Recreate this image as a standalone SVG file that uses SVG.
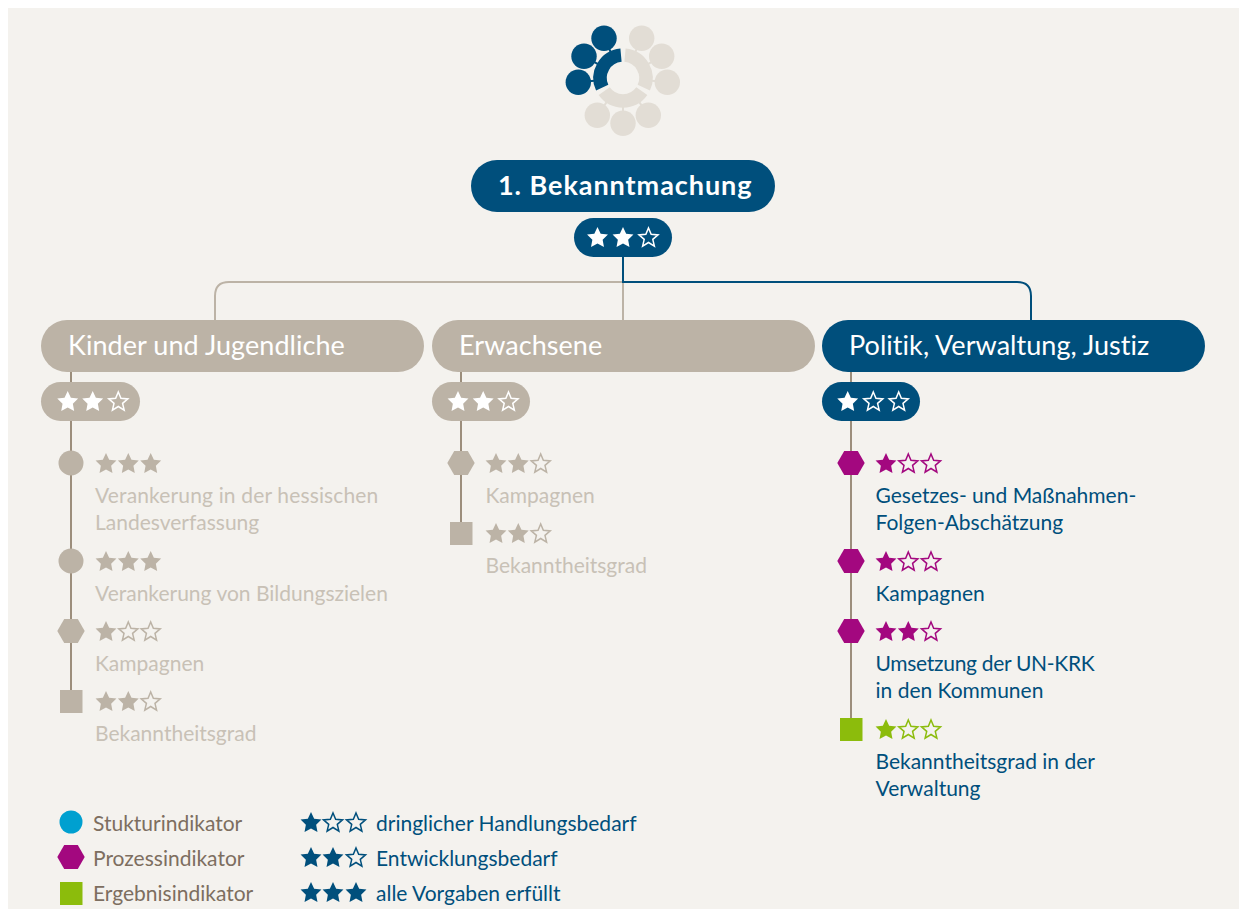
<svg xmlns="http://www.w3.org/2000/svg" width="1239" height="912" viewBox="0 0 1239 912">
<style>
text{font-family:"Lato","Liberation Sans",sans-serif;font-size:21px}
.h{font-size:27px;fill:#fff;letter-spacing:.05px}
.b{font-weight:700;letter-spacing:.95px}
.g{fill:#c8c1b6}.n{fill:#004f7c}.l{fill:#7d6e60}
.w{fill:#fff;stroke:none}.wo{fill:none;stroke:#fff;stroke-width:1.5}
.bg{fill:#bcb3a6;stroke:none}.bo{fill:none;stroke:#bcb3a6;stroke-width:1.5}
.m{fill:#a3087f;stroke:none}.mo{fill:none;stroke:#a3087f;stroke-width:1.5}
.v{fill:#8cbc0c;stroke:none}.vo{fill:none;stroke:#8cbc0c;stroke-width:1.5}
.nv{fill:#004f7c;stroke:none}.nvo{fill:none;stroke:#004f7c;stroke-width:1.5}
.line{fill:none;stroke-width:2}
.arc{fill:none;stroke-width:13.5}
</style>
<defs>
<polygon id="s" points="0,-10 3.17,-3.37 10.46,-2.4 5.14,2.67 6.47,9.9 0,6.4 -6.47,9.9 -5.14,2.67 -10.46,-2.4 -3.17,-3.37"/>
<polygon id="o" points="0,-9 2.65,-2.64 9.51,-2.09 4.28,2.39 5.88,9.09 0,5.5 -5.88,9.09 -4.28,2.39 -9.51,-2.09 -2.65,-2.64"/>
<polygon id="h" points="-13.7,0 -6.8,-12 6.8,-12 13.7,0 6.8,12 -6.8,12"/>
</defs>
<rect x="0" y="0" width="1239" height="912" fill="#fff"/>
<rect x="8" y="8" width="1231" height="901" fill="#f4f2ee"/>

<g id="logo">
<g stroke="#e2ddd5" stroke-width="2">
<line x1="641.7" y1="38.3" x2="634.1" y2="54.5"/><line x1="661.7" y1="56.3" x2="645.7" y2="65.3"/><line x1="667.3" y1="82.3" x2="648.9" y2="80.5"/>
<line x1="648.3" y1="115.3" x2="637.6" y2="99.6"/><line x1="623" y1="123.3" x2="623" y2="104"/><line x1="597.3" y1="115.3" x2="608.4" y2="99.6"/>
</g>
<g stroke="#004f7c" stroke-width="2">
<line x1="604" y1="38.3" x2="611.9" y2="54.5"/><line x1="584" y1="56.3" x2="600.3" y2="65.3"/><line x1="578.3" y1="82.3" x2="597.1" y2="80.5"/>
</g>
<path class="arc" stroke="#004f7c" d="M621 55.1A23 23 0 0 0 602.2 87.7"/>
<path class="arc" stroke="#e2ddd5" d="M625 55.1A23 23 0 0 1 643.8 87.7"/>
<path class="arc" stroke="#e2ddd5" d="M641.8 91.2A23 23 0 0 1 604.2 91.2"/>
<g fill="#004f7c"><circle cx="604" cy="38.3" r="12.7"/><circle cx="584" cy="56.3" r="12.7"/><circle cx="578.3" cy="82.3" r="12.7"/></g>
<g fill="#e2ddd5"><circle cx="641.7" cy="38.3" r="12.7"/><circle cx="661.7" cy="56.3" r="12.7"/><circle cx="667.3" cy="82.3" r="12.7"/><circle cx="648.3" cy="115.3" r="12.7"/><circle cx="623" cy="123.3" r="12.7"/><circle cx="597.3" cy="115.3" r="12.7"/></g>
</g>

<g id="connectors">
<path class="line" stroke="#bcb3a6" d="M623 282H229Q215 282 215 296V320M623 257V320"/>
<path class="line" stroke="#004f7c" d="M623 257V282H1017Q1031 282 1031 296V320"/>
<path class="line" stroke="#9c8e7c" d="M71 372V702M461 372V533M851 372V729"/>
</g>

<g id="root">
<rect x="471" y="160" width="304" height="52" rx="26" fill="#004f7c"/>
<text x="498" y="195" class="h b">1. Bekanntmachung</text>
<rect x="574" y="218" width="98" height="39" rx="19.5" fill="#004f7c"/>
<use href="#s" x="597.5" y="237" class="w"/><use href="#s" x="623" y="237" class="w"/><use href="#o" x="648.5" y="237" class="wo"/>
</g>

<g id="group-kinder">
<rect x="41" y="320" width="383" height="52" rx="26" fill="#bcb3a6"/>
<text x="68" y="355" class="h">Kinder und Jugendliche</text>
<rect x="41" y="382" width="99" height="39" rx="19.5" fill="#bcb3a6"/>
<use href="#s" x="67.700" y="401" class="w"/><use href="#s" x="92.700" y="401" class="w"/><use href="#o" x="118.300" y="401" class="wo"/>
</g>
<g id="group-erwachsene">
<rect x="432" y="320" width="383" height="52" rx="26" fill="#bcb3a6"/>
<text x="459" y="355" class="h">Erwachsene</text>
<rect x="432" y="382" width="98" height="39" rx="19.5" fill="#bcb3a6"/>
<use href="#s" x="458" y="401" class="w"/><use href="#s" x="483.200" y="401" class="w"/><use href="#o" x="508.500" y="401" class="wo"/>
</g>
<g id="group-politik">
<rect x="822" y="320" width="383" height="52" rx="26" fill="#004f7c"/>
<text x="849" y="355" class="h">Politik, Verwaltung, Justiz</text>
<rect x="822" y="382" width="98" height="39" rx="19.5" fill="#004f7c"/>
<use href="#s" x="847.700" y="401" class="w"/><use href="#o" x="873.300" y="401" class="wo"/><use href="#o" x="898.700" y="401" class="wo"/>
</g>

<g id="k1"><circle cx="71" cy="463" r="12.500" fill="#bcb3a6"/>
<use href="#s" x="106" y="463" class="bg"/><use href="#s" x="128.300" y="463" class="bg"/><use href="#s" x="150.700" y="463" class="bg"/>
<text x="95" y="503" class="g" letter-spacing=".15">Verankerung in der hessischen</text><text x="95" y="530" class="g">Landesverfassung</text></g>
<g id="k2"><circle cx="71" cy="561" r="12.500" fill="#bcb3a6"/>
<use href="#s" x="106" y="561" class="bg"/><use href="#s" x="128.300" y="561" class="bg"/><use href="#s" x="150.700" y="561" class="bg"/>
<text x="95" y="601" class="g">Verankerung von Bildungszielen</text></g>
<g id="k3"><use href="#h" x="71" y="631" class="bg"/>
<use href="#s" x="106" y="631" class="bg"/><use href="#o" x="128.300" y="631" class="bo"/><use href="#o" x="150.700" y="631" class="bo"/>
<text x="95" y="671" class="g">Kampagnen</text></g>
<g id="k4"><rect x="60" y="690" width="22.500" height="23" fill="#bcb3a6"/>
<use href="#s" x="106" y="701" class="bg"/><use href="#s" x="128.300" y="701" class="bg"/><use href="#o" x="150.700" y="701" class="bo"/>
<text x="95" y="741" class="g">Bekanntheitsgrad</text></g>

<g id="e1"><use href="#h" x="461" y="463" class="bg"/>
<use href="#s" x="496" y="463" class="bg"/><use href="#s" x="518.300" y="463" class="bg"/><use href="#o" x="540.700" y="463" class="bo"/>
<text x="485.500" y="503" class="g">Kampagnen</text></g>
<g id="e2"><rect x="450" y="522" width="22.500" height="23" fill="#bcb3a6"/>
<use href="#s" x="496" y="533" class="bg"/><use href="#s" x="518.300" y="533" class="bg"/><use href="#o" x="540.700" y="533" class="bo"/>
<text x="485.500" y="573" class="g">Bekanntheitsgrad</text></g>

<g id="p1"><use href="#h" x="851" y="463" class="m"/>
<use href="#s" x="886" y="463" class="m"/><use href="#o" x="908.300" y="463" class="mo"/><use href="#o" x="931" y="463" class="mo"/>
<text x="875.500" y="503" class="n">Gesetzes- und Maßnahmen-</text><text x="875.500" y="530" class="n">Folgen-Abschätzung</text></g>
<g id="p2"><use href="#h" x="851" y="561" class="m"/>
<use href="#s" x="886" y="561" class="m"/><use href="#o" x="908.300" y="561" class="mo"/><use href="#o" x="931" y="561" class="mo"/>
<text x="875.500" y="601" class="n">Kampagnen</text></g>
<g id="p3"><use href="#h" x="851" y="631" class="m"/>
<use href="#s" x="886" y="631" class="m"/><use href="#s" x="908.300" y="631" class="m"/><use href="#o" x="931" y="631" class="mo"/>
<text x="875.500" y="671" class="n" letter-spacing="-.3">Umsetzung der UN-KRK</text><text x="875.500" y="698" class="n">in den Kommunen</text></g>
<g id="p4"><rect x="840" y="718" width="22.500" height="23" fill="#8cbc0c"/>
<use href="#s" x="886" y="729" class="v"/><use href="#o" x="908.300" y="729" class="vo"/><use href="#o" x="931" y="729" class="vo"/>
<text x="875.500" y="769" class="n">Bekanntheitsgrad in der</text><text x="875.500" y="796" class="n">Verwaltung</text></g>

<g id="legend">
<circle cx="71" cy="822" r="11.500" fill="#00a0d0"/>
<use href="#h" x="71" y="857" class="m"/>
<rect x="60" y="882" width="22.500" height="23" fill="#8cbc0c"/>
<text x="93" y="831" class="l">Stukturindikator</text>
<text x="93" y="866" class="l">Prozessindikator</text>
<text x="93" y="901" class="l">Ergebnisindikator</text>
<use href="#s" x="311" y="822" class="nv"/><use href="#o" x="333" y="822" class="nvo"/><use href="#o" x="356" y="822" class="nvo"/>
<use href="#s" x="311" y="857" class="nv"/><use href="#s" x="333" y="857" class="nv"/><use href="#o" x="356" y="857" class="nvo"/>
<use href="#s" x="311" y="892" class="nv"/><use href="#s" x="333" y="892" class="nv"/><use href="#s" x="356" y="892" class="nv"/>
<text x="376" y="831" class="n">dringlicher Handlungsbedarf</text>
<text x="376" y="866" class="n">Entwicklungsbedarf</text>
<text x="376" y="901" class="n">alle Vorgaben erfüllt</text>
</g>
</svg>
